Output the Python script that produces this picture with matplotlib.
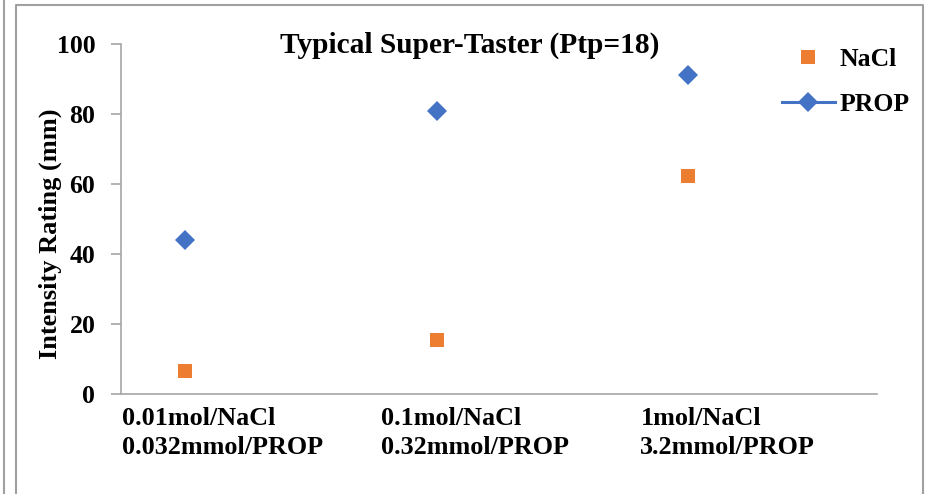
import matplotlib
matplotlib.use("Agg")
import matplotlib.pyplot as plt
from matplotlib.lines import Line2D
import numpy as np

categories = ["0.01mol/NaCl\n0.032mmol/PROP",
              "0.1mol/NaCl\n0.32mmol/PROP",
              "1mol/NaCl\n3.2mmol/PROP"]
nacl = [6.4, 15.2, 62.3]
prop = [44.1, 80.8, 91.1]

plt.rcParams['font.family'] = ['Liberation Serif', 'DejaVu Serif']
plt.rcParams['font.weight'] = 'bold'

W, H = 927, 494
fig = plt.figure(figsize=(W/100, H/100), dpi=100)
ax = fig.add_axes([121/W, 1-393.5/H, (877-121)/W, (393.5-44.3)/H])

orange = '#ED7D31'
blue = '#4472C4'
grey = '#A6A6A6'

x = np.arange(len(categories))
ax.plot(x, nacl, ls='none', marker='s', ms=10, mew=0, color=orange)
ax.plot(x, prop, ls='none', marker='D', ms=9.8, mew=0, color=blue)

ax.set_xlim(-0.254, 2.75)
ax.set_ylim(0, 100)
ax.set_yticks([0, 20, 40, 60, 80, 100])

# category labels sit left-aligned, shifted left of each point
label_x = [-0.25, 0.78, 1.81]
ax.set_xticks(label_x)
ax.set_xticklabels(categories, ha='left', fontsize=18.8, fontweight='bold',
                   linespacing=1.32)
ax.tick_params(axis='x', length=0, pad=10)
ax.tick_params(axis='y', length=7, width=1.2, color=grey, pad=11.5,
               labelsize=18.5)
for t in ax.get_yticklabels():
    t.set_fontweight('bold')

for s in ['top', 'right']:
    ax.spines[s].set_visible(False)
for s in ['left', 'bottom']:
    ax.spines[s].set_color(grey)
    ax.spines[s].set_linewidth(1.2)

ax.set_ylabel('Intensity Rating (mm)', fontsize=19, fontweight='bold')
ax.yaxis.set_label_coords(-0.078, 0.457)

fig.text(470/W, 1-45/H, 'Typical Super-Taster (Ptp=18)', ha='center',
         va='center', fontsize=21.2, fontweight='bold')

handles = [Line2D([], [], ls='none', marker='s', ms=10, mew=0, color=orange),
           Line2D([], [], ls='-', lw=2.2, marker='D', ms=9.8, mew=0, color=blue)]
leg = fig.legend(handles, ['NaCl', 'PROP'], loc='upper left',
                 bbox_to_anchor=(782/W, 1-48/H), frameon=False,
                 fontsize=18.5, handlelength=2.05, handletextpad=0.2,
                 labelspacing=0.84, borderpad=0, borderaxespad=0)
for t in leg.get_texts():
    t.set_fontweight('bold')

# page frame lines
fc = '#A0A0A0'
fig.add_artist(Line2D([4/W, 4/W], [0, 1], transform=fig.transFigure,
                      color=fc, lw=1.5))
fig.add_artist(Line2D([16/W, 16/W, 923/W, 923/W], [0, 1-5/H, 1-5/H, 0],
                      transform=fig.transFigure, color=fc, lw=1.5))

fig.savefig('out.png', dpi=100)
